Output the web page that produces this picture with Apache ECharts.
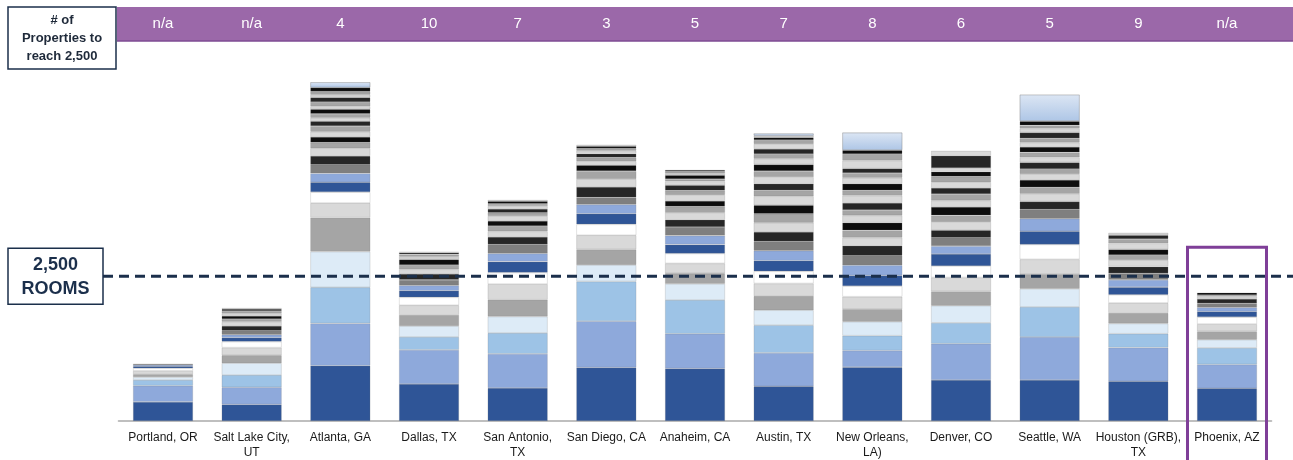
<!DOCTYPE html>
<html>
<head>
<meta charset="utf-8">
<script src="https://cdn.jsdelivr.net/npm/echarts@6/dist/echarts.min.js"></script>
<style>
  html, body { margin: 0; padding: 0; background: #ffffff; }
  #chart { width: 1293px; height: 460px; }
</style>
</head>
<body>
<div id="chart"></div>
<script>
// Markets on the x axis
const cities = [
  'Portland, OR', 'Salt Lake City,\nUT', 'Atlanta, GA', 'Dallas, TX', 'San Antonio,\nTX',
  'San Diego, CA', 'Anaheim, CA', 'Austin, TX', 'New Orleans,\nLA)', 'Denver, CO',
  'Seattle, WA', 'Houston (GRB),\nTX', 'Phoenix, AZ'
];

// Number of properties needed to reach 2,500 rooms (header row)
const propertiesToTarget = ['n/a', 'n/a', '4', '10', '7', '3', '5', '7', '8', '6', '5', '9', 'n/a'];

const targetRooms = 2500;

// Room counts per property, largest first (one entry per stacked segment)
const portland    = [330, 279, 98, 51, 51, 56, 46, 34, 22, 22];
const saltLake    = [286, 296, 211, 205, 137, 132, 103, 68, 51, 68, 86, 68, 51, 51, 43, 43, 34, 17];
const atlanta     = [955, 730, 623, 616, 587, 252, 188, 171, 154, 147, 154, 132, 98, 96, 92, 96, 86, 58, 68, 79, 51, 75, 79, 46, 56, 68];
const dallas      = [639, 589, 223, 188, 193, 166, 137, 113, 92, 96, 103, 80, 74, 98, 46, 39, 29, 17];
const sanAntonio  = [570, 589, 360, 284, 291, 269, 200, 188, 142, 154, 132, 96, 92, 86, 86, 56, 68, 46, 39, 46, 22];
const sanDiego    = [924, 800, 685, 284, 269, 245, 188, 183, 159, 120, 183, 137, 137, 103, 68, 63, 68, 51, 39, 39, 24];
const anaheim     = [907, 599, 582, 279, 183, 171, 171, 154, 154, 149, 125, 120, 108, 98, 103, 74, 92, 68, 39, 68, 29, 34, 27];
const austin      = [599, 577, 479, 257, 245, 217, 211, 183, 171, 159, 166, 159, 154, 149, 154, 103, 113, 115, 103, 115, 96, 86, 86, 86, 68, 46, 29];
const newOrleans  = [930, 286, 257, 240, 217, 216, 183, 183, 176, 166, 171, 142, 125, 132, 125, 92, 125, 125, 92, 113, 103, 80, 80, 137, 113, 68];
const denver      = [707, 628, 360, 296, 247, 240, 199, 205, 137, 144, 130, 144, 113, 144, 113, 110, 108, 98, 96, 86, 63, 0, 211, 86];
const seattle     = [707, 743, 519, 313, 252, 257, 257, 228, 217, 159, 137, 132, 115, 125, 103, 86, 115, 86, 86, 96, 75, 74, 98, 68, 56, 74];
const houston     = [685, 582, 240, 176, 183, 171, 142, 132, 125, 115, 115, 113, 86, 98, 103, 74, 68, 41];
const phoenix     = [565, 411, 286, 142, 144, 125, 120, 98, 68, 74, 74, 41, 27, 41];

// Remaining rooms from smaller properties (top segment)
const otherRooms = [0, 0, 92, 0, 0, 0, 0, 39, 303, 0, 457, 0, 0];

const cityRooms = [portland, saltLake, atlanta, dallas, sanAntonio, sanDiego, anaheim,
                   austin, newOrleans, denver, seattle, houston, phoenix];

// Segment fill colours by rank
const DB = '#2F5597', MB = '#8EA9DB', LB = '#9DC3E6', VB = '#DDEBF7';
const GR = '#A5A5A5', LG = '#D9D9D9', WH = '#FFFFFF', DG = '#7F7F7F', NB = '#262626', BK = '#0D0D0D';
const rankColors = [DB, MB, LB, VB, GR, LG, WH, DB, MB, DG, NB,
                    LG, GR, BK, LG, GR, NB, LG, GR, BK, LG, GR, NB, LG, GR, BK, LG];

const FONT = "'Liberation Sans', Arial, Helvetica, sans-serif";
const NAVY = '#1B2F4B';

const maxRank = Math.max(...cityRooms.map(a => a.length));
const series = [];
for (let r = 0; r < maxRank; r++) {
  series.push({
    type: 'bar',
    stack: 'rooms',
    barWidth: 60,
    itemStyle: { color: rankColors[r], borderColor: 'rgba(120,120,120,0.35)', borderWidth: 0.6 },
    data: cityRooms.map(a => (a[r] ? a[r] : '-'))
  });
}
series.push({
  type: 'bar',
  stack: 'rooms',
  barWidth: 60,
  itemStyle: {
    color: new echarts.graphic.LinearGradient(0, 0, 0, 1, [
      { offset: 0, color: '#DCE6F4' },
      { offset: 1, color: '#AEC6E6' }
    ]),
    borderColor: 'rgba(120,120,120,0.35)',
    borderWidth: 0.6
  },
  data: otherRooms.map(v => (v ? v : '-'))
});

const chart = echarts.init(document.getElementById('chart'), null, { renderer: 'canvas' });
chart.setOption({
  animation: false,
  backgroundColor: '#ffffff',
  grid: { left: 118.67, right: 21.67, top: 59, bottom: 36 },
  xAxis: {
    type: 'category',
    data: cities,
    axisLine: { lineStyle: { color: '#BFBFBF', width: 2 } },
    axisTick: { show: false },
    axisLabel: { interval: 0, margin: 9, color: '#1A1A1A', fontSize: 12, fontFamily: FONT, lineHeight: 15 }
  },
  yAxis: {
    type: 'value',
    min: 0,
    max: 6250,
    show: false,
    splitLine: { show: false }
  },
  series: series
});

// Overlay: header row, 2,500-room reference line and highlight box
const yTarget = chart.convertToPixel({ yAxisIndex: 0 }, targetRooms);
const xs = cities.map(c => chart.convertToPixel({ xAxisIndex: 0 }, c));
const W = 1293;

const graphics = [
  // header band
  { type: 'rect', shape: { x: 117, y: 7, width: W - 117, height: 34 }, style: { fill: '#9B68A9' }, z: 10 },
  { type: 'line', shape: { x1: 117, y1: 41, x2: W, y2: 41 }, style: { stroke: '#7E4B93', lineWidth: 1.5 }, z: 11 },
  // header title box
  { type: 'rect', shape: { x: 8, y: 7, width: 108, height: 62 }, style: { fill: '#ffffff', stroke: NAVY, lineWidth: 1.5 }, z: 10 },
  { type: 'text', x: 62, y: 38, style: {
      text: '# of\nProperties to\nreach 2,500', fill: '#1F2A3A', font: 'bold 13px ' + FONT,
      align: 'center', verticalAlign: 'middle', lineHeight: 18 }, z: 12 },
  // reference line
  { type: 'line', shape: { x1: 103, y1: yTarget, x2: W, y2: yTarget },
    style: { stroke: NAVY, lineWidth: 3, lineDash: [10, 6] }, z: 20 },
  { type: 'rect', shape: { x: 8, y: yTarget - 28, width: 95, height: 56 },
    style: { fill: '#ffffff', stroke: NAVY, lineWidth: 1.5 }, z: 21 },
  { type: 'text', x: 55.5, y: yTarget + 1, style: {
      text: '2,500\nROOMS', fill: NAVY, font: 'bold 18px ' + FONT,
      align: 'center', verticalAlign: 'middle', lineHeight: 24 }, z: 22 },
  // highlighted market
  { type: 'rect', shape: { x: xs[12] - 39.5, y: yTarget - 29, width: 79, height: 240 },
    style: { fill: 'none', stroke: '#7F3F98', lineWidth: 3 }, z: 25 }
];
propertiesToTarget.forEach((t, i) => {
  graphics.push({ type: 'text', x: xs[i], y: 24, style: {
    text: t, fill: '#ffffff', font: '15px ' + FONT, align: 'center', verticalAlign: 'middle' }, z: 12 });
});
chart.setOption({ graphic: graphics });
</script>
</body>
</html>
